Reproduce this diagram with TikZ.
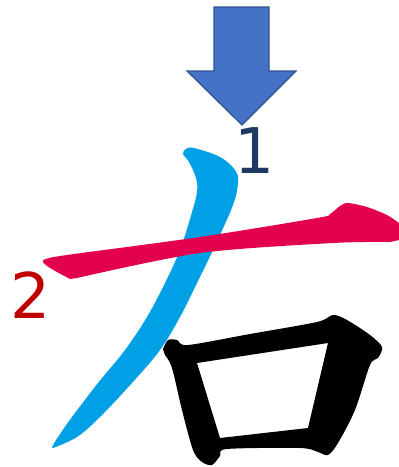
\documentclass[tikz,border=0pt]{standalone}
\usepackage{fontspec}
\newfontfamily\numfont{DejaVu Sans}
\usetikzlibrary{positioning}
\definecolor{arrowblue}{HTML}{4472C4}
\definecolor{arrowedge}{HTML}{2F528F}
\definecolor{strokeblue}{HTML}{00A0E6}
\definecolor{strokered}{HTML}{E3004F}
\definecolor{labelnavy}{HTML}{203864}
\definecolor{labelred}{HTML}{C00000}

\begin{document}
\begin{tikzpicture}[x=1pt, y=-1pt,
  downarrow/.style={fill=arrowblue, draw=arrowedge, line width=1.2pt, line join=miter},
  firststroke/.style={fill=strokeblue},
  secondstroke/.style={fill=strokered},
  boxstroke/.style={fill=black, even odd rule},
  num/.style={font=\numfont\fontsize{63pt}{63pt}\selectfont, inner sep=0pt, anchor=base},
]
\useasboundingbox (0,0) rectangle (399,467);

% Arrow on top (start of stroke 1)
\draw[downarrow] (214,7) -- (269,7) -- (269,71) -- (296,71) -- (242,125)
  -- (187,71) -- (214,71) -- cycle;
\coordinate (tip) at (242,125);

% Stroke 1: the falling stroke
\fill[firststroke] plot[smooth, tension=0.6] coordinates {
  (52,447) (58,437) (72,417) (98,383) (125,350) (147,317) (165,283) (180,250)
  (192,212) (197,192) (196,178) (189,162) (183,154) (186,149) (194,148)
  (220,157) (235,170) (238,182) (233,205) (213,250) (197,283) (180,317)
  (160,350) (132,383) (100,417) (77,437) (53,448)} -- cycle;

% Stroke 2: the horizontal
\fill[secondstroke] plot[smooth, tension=0.5] coordinates {
  (70,279) (50,268) (43,262) (46,259) (67,255) (200,237) (317,218) (330,214)
  (340,206) (348,203) (367,207) (387,215) (399,223)}
  -- (399,240) -- plot[smooth, tension=0.5] coordinates {
  (390,242) (333,243) (200,253) (77,278)} -- cycle;

% The box (remaining strokes)
\fill[boxstroke] plot[smooth, tension=0.5] coordinates {
  (163,349) (168,340) (177,340) (188,345) (250,334) (317,322) (333,315)
  (347,320) (370,335) (382,347) (378,358) (370,365) (355,410) (338,443)
  (328,455) (318,452) (300,448) (227,449) (220,456) (212,465) (202,462)
  (193,450) (182,410) (172,368) (165,355)} -- cycle
  (197,363) -- (328,343) -- (308,428) -- (220,438) -- cycle;

% Stroke numbers
\node[num, text=labelnavy] (one) at (255,173) {1};
\node[num, text=labelred] (two) at (31,318) {2};

\end{tikzpicture}
\end{document}
